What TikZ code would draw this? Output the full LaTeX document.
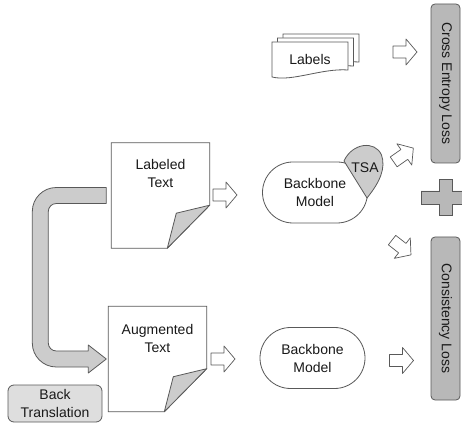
\documentclass[tikz,border=0pt]{standalone}
\usepackage{fontspec}
\setmainfont{Liberation Sans}
\usetikzlibrary{positioning, calc, shapes.misc}
\definecolor{udaline}{HTML}{595959}
\definecolor{udaloss}{HTML}{B8B8B8}
\definecolor{udafold}{HTML}{CCCCCC}
\definecolor{udapale}{HTML}{DEDEDE}
\tikzset{
  base/.style={font=\fontsize{14}{18}\selectfont, text=black!90, align=center},
  docbox/.style={minimum width=98pt, minimum height=105pt, inner sep=0pt},
  docline/.style={draw=udaline, line width=.8pt, fill=white},
  fold/.style={draw=udaline, line width=.8pt, fill=udafold, line join=round},
  sheet/.style={draw=udaline, line width=.8pt, fill=white},
  model/.style={base, rounded rectangle, draw=udaline, line width=.8pt, fill=white,
    minimum width=105pt, minimum height=61pt, inner sep=0pt},
  tsa/.style={draw=udaline, line width=.8pt, fill=udafold},
  lossbox/.style={base, draw=udaline, fill=udaloss, line width=.8pt, rounded corners=4pt,
    rotate=-90, minimum height=29pt, inner sep=0pt},
  transbox/.style={base, draw=udaline, fill=udapale, line width=.8pt, rounded corners=6pt,
    minimum width=94pt, minimum height=37pt, inner sep=0pt},
  bigarrow/.style={draw=udaline, fill=udafold, line width=.8pt, line join=round},
  pics/fatarrow/.style={code={
    \draw[draw=udaline, fill=white, line width=.7pt, line join=round]
      (-12,-6) -- (1,-6) -- (1,-13) -- (12,0) -- (1,13) -- (1,6) -- (-12,6) -- cycle;
  }},
}

\begin{document}
\begin{tikzpicture}[x=1pt, y=1pt]
  \useasboundingbox (0,0) rectangle (462,425);

  % loss side
  \node[lossbox, minimum width=159pt] (celoss) at (445.5,341.5) {Cross Entropy Loss};
  \node[lossbox, minimum width=163pt] (consloss) at (445.5,106.5) {Consistency Loss};
  \coordinate (plus) at (445.5,227.5);
  \filldraw[draw=udaline, fill=udaloss, line width=.8pt]
    ($(plus)+(-6.5,-18)$) -- ++(13,0) -- ++(0,11.5) -- ++(18,0) -- ++(0,13) -- ++(-18,0)
    -- ++(0,11.5) -- ++(-13,0) -- ++(0,-11.5) -- ++(-18,0) -- ++(0,-13) -- ++(18,0) -- cycle;

  % stacked labels
  \coordinate (lbl) at (310,365);
  \foreach \k in {2,1,0}
    \filldraw[sheet, shift={($(lbl)+(5.5*\k,4*\k)$)}]
      (-38,18) -- (38,18) -- (38,-10) .. controls (12,-8) and (-18,-22) .. (-38,-17) -- cycle;
  \node[base] (labels) at (lbl) {Labels};
  \pic (arlabels) at (405,373) {fatarrow};

  % documents
  \node[docbox] (labeled) at (160.5,229.5) {};
  \node[docbox] (augmented) at (157.5,66) {};
  \foreach \d in {labeled, augmented} {
    \draw[docline] (\d.south west) -- (\d.north west) -- (\d.north east)
      -- ($(\d.south east)+(0,43)$) -- ($(\d.south west)+(56,0)$) -- cycle;
    \filldraw[fold] ($(\d.south west)+(56,0)$) -- ($(\d.south west)+(65,35)$)
      -- ($(\d.south east)+(0,43)$) -- cycle;
  }
  \node[base] (labeledtext) at ($(labeled)+(0,21.5)$) {Labeled\\Text};
  \node[base] (augmentedtext) at ($(augmented)+(0,21)$) {Augmented\\Text};

  % models
  \node[model] (topmodel) at (315,232.5) {Backbone\\Model};
  \node[model] (botmodel) at (312.5,67) {Backbone\\Model};
  \filldraw[tsa] (344,264) .. controls (352,282) and (375,285) .. (381.5,270)
    .. controls (386,257) and (380,243) .. (367,227) -- cycle;
  \node[base] (tsatext) at (365,257.5) {TSA};

  \pic (ardoc1) at (225,230) {fatarrow};
  \pic (ardoc2) at (223,66) {fatarrow};
  \pic[rotate=35] (arup) at (403.5,270) {fatarrow};
  \pic[rotate=-38] (ardown) at (401.5,177.5) {fatarrow};
  \pic (arcons) at (401.5,64.5) {fatarrow};

  % back translation arrow
  \coordinate (arrtop) at ($(labeled.west)+(-5,0)$);
  \coordinate (arrbot) at (arrtop |- augmented.west);
  \draw[bigarrow] ($(arrtop)+(0,8)$) -- ($(arrtop)+(-50,8)$)
    arc[start angle=90, end angle=180, radius=24] -- ($(arrbot)+(-74,16)$)
    arc[start angle=180, end angle=270, radius=24] -- ($(arrbot)+(-18,-8)$)
    -- ++(0,-6) -- (arrbot) -- ++(-18,14) -- ++(0,-6) -- ($(arrbot)+(-50,8)$)
    arc[start angle=270, end angle=180, radius=8] -- ($(arrtop)+(-58,-16)$)
    arc[start angle=180, end angle=90, radius=8] -- ($(arrtop)+(0,-8)$) -- cycle;
  \node[transbox] (backtrans) at (55,21.5) {Back\\Translation};
\end{tikzpicture}
\end{document}
